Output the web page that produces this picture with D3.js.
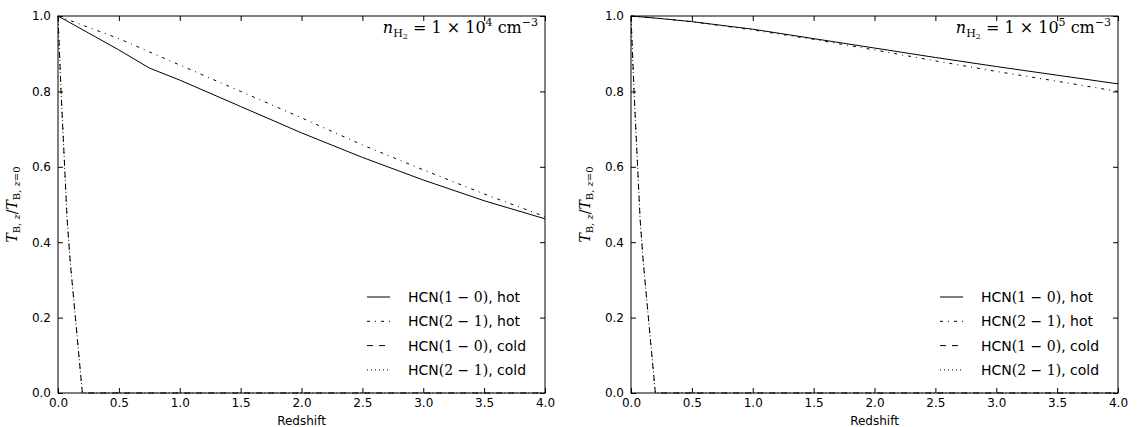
<!DOCTYPE html>
<html>
<head>
<meta charset="utf-8">
<script src="https://cdn.jsdelivr.net/npm/d3@7"></script>
<style>
  body { margin: 0; background: #fff; }
  svg { display: block; }
  .tick text { font-family: "DejaVu Sans", sans-serif; font-size: 12px; fill: #000; }
  .axis-title { font-family: "DejaVu Sans", sans-serif; font-size: 12px; }
  .math { font-family: "DejaVu Serif", "Liberation Serif", serif; }
</style>
</head>
<body>
<div id="chart"></div>
<script>
// redshift grid for the hot curves
var redshiftHot = [0, 0.25, 0.5, 0.75, 1.0, 1.5, 2.0, 2.5, 3.0, 3.5, 4.0];
// n = 1e4
var hot10_n4 = [1.0, 0.955, 0.91, 0.862, 0.83, 0.76, 0.69, 0.625, 0.565, 0.51, 0.462];
var hot21_n4 = [1.0, 0.97, 0.94, 0.905, 0.87, 0.80, 0.73, 0.658, 0.592, 0.528, 0.468];
// n = 1e5
var hot10_n5 = [1.0, 0.993, 0.985, 0.975, 0.965, 0.94, 0.915, 0.89, 0.866, 0.843, 0.82];
var hot21_n5 = [1.0, 0.993, 0.985, 0.974, 0.963, 0.938, 0.91, 0.881, 0.853, 0.827, 0.80];
// cold curves drop to zero almost at once
var redshiftCold = [0, 0.025, 0.05, 0.075, 0.1, 0.2, 1.0, 2.0, 3.0, 4.0];
var cold10 = [1.0, 0.80, 0.63, 0.46, 0.35, 0, 0, 0, 0, 0];
var cold21 = [1.0, 0.80, 0.63, 0.46, 0.35, 0, 0, 0, 0, 0];

var xTicks = [0, 0.5, 1.0, 1.5, 2.0, 2.5, 3.0, 3.5, 4.0];
var yTicks = [0, 0.2, 0.4, 0.6, 0.8, 1.0];
var densities = ["4", "5"];

var legendItems = [
  {trans: "1 \u2212 0", kind: "hot", dash: null},
  {trans: "2 \u2212 1", kind: "hot", dash: "3,5,1,5"},
  {trans: "1 \u2212 0", kind: "cold", dash: "6,6"},
  {trans: "2 \u2212 1", kind: "cold", dash: "1,3"}
];

var W = 1137, H = 427;
var svg = d3.select("#chart").append("svg")
            .attr("width", W).attr("height", H);
svg.append("rect").attr("width", W).attr("height", H).attr("fill", "#fff");

var fmt = d3.format(".1f");

function draw(left, right, top, bottom, series, dens){
    var x = d3.scaleLinear().domain([0, 4]).range([left, right]);
    var y = d3.scaleLinear().domain([0, 1]).range([bottom, top]);
    var g = svg.append("g");

    var line = d3.line().x((d) => x(d[0])).y((d) => y(d[1]));

    series.forEach(function(s){
        g.append("path")
         .datum(s.xs.map((v, i) => [v, s.ys[i]]))
         .attr("d", line)
         .attr("fill", "none")
         .attr("stroke", "#000")
         .attr("stroke-width", 1)
         .attr("stroke-dasharray", s.dash);
    });

    // axes, ticks pointing inward like matplotlib classic
    g.append("g").attr("transform", "translate(0," + bottom + ")")
     .call(d3.axisBottom(x).tickValues(xTicks).tickFormat(fmt).tickSizeInner(-5).tickSizeOuter(0).tickPadding(5))
     .call((a) => a.select(".domain").remove());
    g.append("g").attr("transform", "translate(0," + top + ")")
     .call(d3.axisTop(x).tickValues(xTicks).tickFormat("").tickSizeInner(-5).tickSizeOuter(0))
     .call((a) => a.select(".domain").remove());
    g.append("g").attr("transform", "translate(" + left + ",0)")
     .call(d3.axisLeft(y).tickValues(yTicks).tickFormat(fmt).tickSizeInner(-5).tickSizeOuter(0).tickPadding(7))
     .call((a) => a.select(".domain").remove());
    g.append("g").attr("transform", "translate(" + right + ",0)")
     .call(d3.axisRight(y).tickValues(yTicks).tickFormat("").tickSizeInner(-5).tickSizeOuter(0))
     .call((a) => a.select(".domain").remove());

    g.selectAll(".tick line").attr("stroke", "#000");

    g.append("rect")
     .attr("x", left).attr("y", top)
     .attr("width", right - left).attr("height", bottom - top)
     .attr("fill", "none").attr("stroke", "#000").attr("stroke-width", 1);

    g.append("text").attr("class", "axis-title")
     .attr("x", (left + right) / 2).attr("y", bottom + 32)
     .attr("text-anchor", "middle").text("Redshift");

    // y label T_{B,z}/T_{B,z=0}
    var yl = g.append("text").attr("class", "math")
              .attr("transform", "translate(" + (left - 41) + "," + ((top + bottom) / 2) + ") rotate(-90)")
              .attr("text-anchor", "middle").attr("font-size", 14);
    yl.append("tspan").attr("font-style", "italic").text("T");
    yl.append("tspan").attr("font-size", 10).attr("dy", 3).text("B, ");
    yl.append("tspan").attr("font-size", 10).attr("font-style", "italic").text("z");
    yl.append("tspan").attr("dy", -3).text("/");
    yl.append("tspan").attr("font-style", "italic").text("T");
    yl.append("tspan").attr("font-size", 10).attr("dy", 3).text("B, ");
    yl.append("tspan").attr("font-size", 10).attr("font-style", "italic").text("z");
    yl.append("tspan").attr("font-size", 10).text("=0");

    // density annotation
    var t = g.append("text").attr("class", "math")
             .attr("x", right - 7).attr("y", top + 17)
             .attr("text-anchor", "end").attr("font-size", 16);
    t.append("tspan").attr("font-style", "italic").text("n");
    t.append("tspan").attr("font-size", 11).attr("dy", 4).text("H");
    t.append("tspan").attr("font-size", 8).attr("dy", 2).text("2");
    t.append("tspan").attr("dy", -6).text(" = 1 \u00d7 10");
    t.append("tspan").attr("font-size", 11).attr("dy", -7).text(dens);
    t.append("tspan").attr("dy", 7).text(" cm");
    t.append("tspan").attr("font-size", 11).attr("dy", -7).text("\u22123");

    // legend
    var lg = g.append("g");
    legendItems.forEach(function(it, i){
        var ly = bottom - 96 + i * 24.3;
        lg.append("line")
          .attr("x1", right - 178).attr("x2", right - 155)
          .attr("y1", ly).attr("y2", ly)
          .attr("stroke", "#000").attr("stroke-width", 1)
          .attr("stroke-dasharray", it.dash);
        var tx = lg.append("text").attr("x", right - 137).attr("y", ly + 5)
                   .attr("font-family", "DejaVu Sans, sans-serif").attr("font-size", 14);
        tx.append("tspan").text("HCN");
        tx.append("tspan").attr("class", "math").text("(" + it.trans + ")");
        tx.append("tspan").text(", " + it.kind);
    });
}

draw(58, 545, 16, 393, [
    {xs: redshiftHot, ys: hot10_n4, dash: null},
    {xs: redshiftHot, ys: hot21_n4, dash: "3,5,1,5"},
    {xs: redshiftCold, ys: cold10, dash: "6,6"},
    {xs: redshiftCold, ys: cold21, dash: "1,3"}
], densities[0]);

draw(631, 1118, 16, 393, [
    {xs: redshiftHot, ys: hot10_n5, dash: null},
    {xs: redshiftHot, ys: hot21_n5, dash: "3,5,1,5"},
    {xs: redshiftCold, ys: cold10, dash: "6,6"},
    {xs: redshiftCold, ys: cold21, dash: "1,3"}
], densities[1]);
</script>
</body>
</html>
